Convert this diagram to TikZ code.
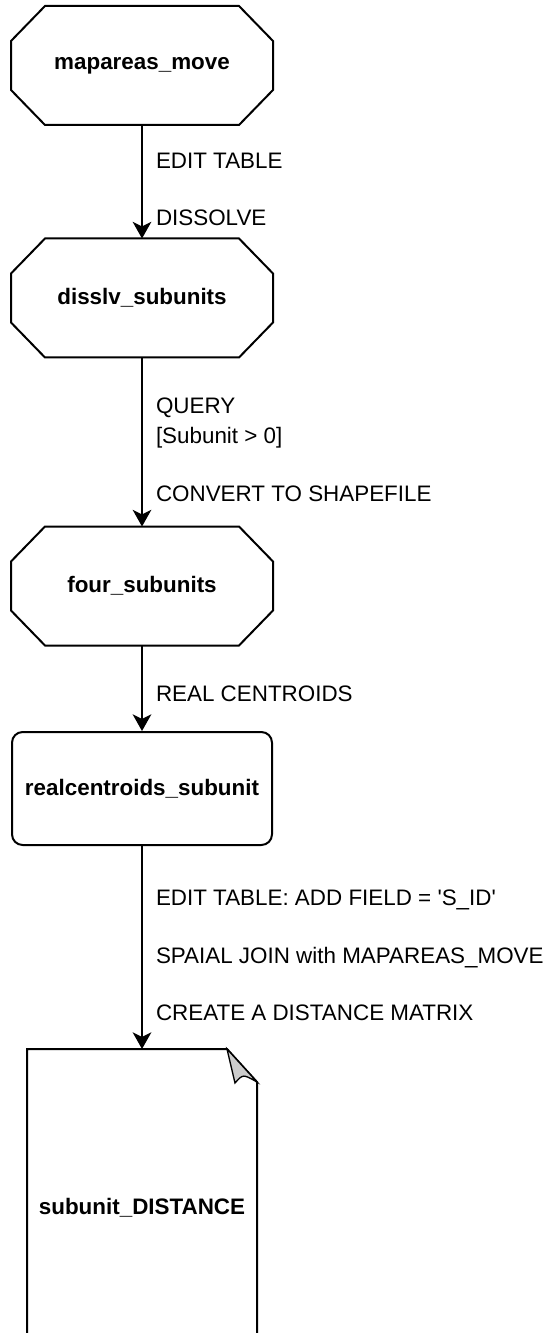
\documentclass[tikz,border=0pt]{standalone}
\usepackage{fontspec}
\setmainfont{Liberation Sans}
\usetikzlibrary{calc, arrows.meta}
\tikzset{
  every node/.style={font=\fontsize{16.8}{20}\selectfont},
  octbox/.style={minimum width=195pt, minimum height=87.75pt, inner sep=0pt, font=\fontsize{16.8}{20}\selectfont\bfseries},
  roundbox/.style={draw, rounded corners=8pt, minimum width=195pt, minimum height=84.75pt, inner sep=0pt, font=\fontsize{16.8}{20}\selectfont\bfseries},
  docbox/.style={minimum width=171pt, minimum height=237pt, inner sep=0pt, font=\fontsize{16.8}{20}\selectfont\bfseries},
  flow/.style={-{Stealth[length=12.5pt, width=14pt, inset=3.5pt]}},
  lbl/.style={anchor=base west, inner sep=0pt}
}

\begin{document}
\begin{tikzpicture}[x=0.75pt, y=-0.75pt, line width=1.5pt]
\useasboundingbox (0,0) rectangle (547,1333);
\clip (0,0) rectangle (547,1333);
\node[octbox] (mapareas) at (142,65.5) {mapareas\_move};
\node[octbox] (disslv) at (142,298) {disslv\_subunits};
\node[octbox] (four) at (142,586) {four\_subunits};
\node[roundbox] (centroids) at (142,788.5) {realcentroids\_subunit};
\node[docbox] (distance) at (142,1208) {subunit\_DISTANCE};
\foreach \n in {mapareas,disslv,four} {
    \draw ($(\n.north west)+(34,0)$) -- ($(\n.north east)+(-34,0)$) -- ($(\n.north east)+(0,35)$)
        -- ($(\n.south east)+(0,-35)$) -- ($(\n.south east)+(-34,0)$) -- ($(\n.south west)+(34,0)$)
        -- ($(\n.south west)+(0,-35)$) -- ($(\n.north west)+(0,35)$) -- cycle;
}
\draw (distance.south west) -- (distance.north west) -- ($(distance.north east)+(-30,0)$)
    -- ($(distance.north east)+(0,33)$) -- (distance.south east);
\filldraw[fill=gray!40, line width=1pt] ($(distance.north east)+(-30,0)$) -- ($(distance.north east)+(-22,34)$)
    .. controls ($(distance.north east)+(-14,25)$) .. ($(distance.north east)+(0,33)$) -- cycle;
\draw[flow] (mapareas) -- (disslv);
\draw[flow] (disslv) -- (four);
\draw[flow] (four) -- (centroids);
\draw[flow] (centroids) -- (distance);
\foreach \y/\t [count=\i] in {169/EDIT TABLE, 226/DISSOLVE, 413/QUERY, 443/{[Subunit > 0]},
    501/CONVERT TO SHAPEFILE, 701/REAL CENTROIDS,
    905/{EDIT TABLE: ADD FIELD = \textquotesingle S\_ID\textquotesingle},
    963/SPAIAL JOIN with MAPAREAS\_MOVE, 1020/CREATE A DISTANCE MATRIX} {
    \node[lbl] (lbl\i) at (155,\y) {\t};
}
\end{tikzpicture}
\end{document}
